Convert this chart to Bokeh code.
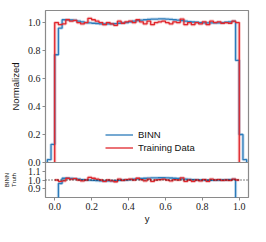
import numpy as np
from bokeh.plotting import figure
from bokeh.layouts import column
from bokeh.models import (Range1d, Legend, LegendItem, Span, FixedTicker,
                          PrintfTickFormatter)
from bokeh.embed import file_html
from bokeh.resources import INLINE

# ---------------- data ----------------
bin_edges = np.linspace(-0.04, 1.04, 55)          # 54 bins of width 0.02

binn_density = [0.02, 0.13, 0.77, 0.96,
                1.02, 1.02, 1.018, 1.015, 1.01, 1.005, 1.0, 0.998, 0.995, 0.993,
                0.99, 0.99, 0.99, 0.99, 0.992, 0.995, 0.998, 1.0, 1.005, 1.01,
                1.013, 1.017, 1.02, 1.022, 1.024, 1.025, 1.026, 1.026, 1.025, 1.023,
                1.02, 1.017, 1.014, 1.01, 1.007, 1.004, 1.002, 1.0, 0.998, 0.997,
                0.997, 0.997, 0.998, 1.0, 1.002, 1.005, 1.008,
                0.73, 0.2, 0.02]

training_density = [1.0, 0.985, 0.99, 1.02, 1.01, 1.015, 1.0, 0.99, 1.0, 1.03, 1.02, 1.01, 1.0,
                    0.985, 1.0, 0.99, 0.98, 1.01, 0.995, 1.005, 1.01, 1.0, 1.02, 1.005, 0.99, 1.01,
                    0.985, 1.0, 1.005, 1.01, 1.0, 0.99, 1.005, 1.0, 1.025, 0.985, 1.0, 0.985, 1.0, 0.99,
                    1.005, 0.985, 1.01, 1.0, 1.005, 0.995, 1.0, 0.995, 1.01, 1.0]

truth_density = 1.0          # uniform truth on [0, 1]
support_first_bin = 2        # index of bin starting at y = 0
n_support_bins = 50

x_ticks = [0.0, 0.2, 0.4, 0.6, 0.8, 1.0]
y_ticks_main = [0.0, 0.2, 0.4, 0.6, 0.8, 1.0]
y_ticks_ratio = [0.9, 1.0, 1.1]

BLUE = "#2b7bba"
RED = "#e0262c"
FRAME = "#8a8a8a"
TICK_FONT = "Liberation Serif"
LABEL_FONT = "Liberation Sans"

# ---------------- helpers ----------------
def hist_step(edges, vals):
    xs = [edges[0]] + list(edges)
    ys = [0.0] + list(vals) + [0.0]
    return xs, ys

def ratio_step(edges, vals):
    xs = list(edges)
    ys = list(vals) + [vals[-1]]
    return xs, ys

def style(p):
    p.grid.visible = False
    p.outline_line_color = FRAME
    p.outline_line_width = 1.2
    p.background_fill_color = "white"
    for ax in p.axis:
        ax.axis_line_color = None
        ax.major_tick_line_color = FRAME
        ax.major_tick_in = 0
        ax.major_tick_out = 3
        ax.minor_tick_line_color = None
        ax.major_label_text_font = TICK_FONT
        ax.major_label_text_font_size = "10px"
        ax.major_label_text_color = "#222222"
        ax.major_label_standoff = 2
        ax.axis_label_text_font = LABEL_FONT
        ax.axis_label_text_font_size = "9.5px"
        ax.axis_label_text_font_style = "normal"
        ax.axis_label_text_color = "#111111"

OVERLAP = 7
W = 250
LEFT = 40
RIGHT = 2

# ---------------- main panel ----------------
xr = Range1d(-0.05, 1.05)
p1 = figure(width=W, height=162 + OVERLAP, x_range=xr, y_range=Range1d(0, 1.086),
            output_backend="svg", toolbar_location=None, x_axis_location=None,
            min_border_left=LEFT, min_border_right=RIGHT, min_border_top=10,
            min_border_bottom=OVERLAP)
style(p1)
p1.border_fill_color = "white"
p1.yaxis.ticker = FixedTicker(ticks=y_ticks_main)
p1.yaxis.formatter = PrintfTickFormatter(format="%.1f")
p1.yaxis.axis_label = "Normalized"
p1.yaxis.axis_label_standoff = 4

bx, by = hist_step(bin_edges, binn_density)
tr_edges = bin_edges[support_first_bin:support_first_bin + n_support_bins + 1]
rx, ry = hist_step(tr_edges, training_density)

p1.step(bx, by, mode="after", line_color=BLUE, line_width=3.2, line_alpha=0.25)
p1.step(rx, ry, mode="after", line_color=RED, line_width=3.2, line_alpha=0.25)
b_line = p1.step(bx, by, mode="after", line_color=BLUE, line_width=1.3)
r_line = p1.step(rx, ry, mode="after", line_color=RED, line_width=1.3)

legend = Legend(items=[LegendItem(label="BINN", renderers=[b_line]),
                       LegendItem(label="Training Data", renderers=[r_line])],
                location=(60, 8), padding=0, margin=0, spacing=0,
                glyph_width=28, glyph_height=13, label_height=13, label_standoff=5,
                border_line_color=None, background_fill_alpha=0,
                label_text_font=LABEL_FONT, label_text_font_size="9.5px",
                label_text_color="#111111")
p1.add_layout(legend)

# ---------------- ratio panel ----------------
p2 = figure(width=W, height=64, x_range=xr, y_range=Range1d(0.8, 1.2),
            output_backend="svg", toolbar_location=None,
            min_border_left=LEFT, min_border_right=RIGHT, min_border_top=0, min_border_bottom=0)
style(p2)
p2.border_fill_alpha = 0
p2.margin = (-OVERLAP, 0, 0, 0)
p2.xaxis.ticker = FixedTicker(ticks=x_ticks)
p2.xaxis.formatter = PrintfTickFormatter(format="%.1f")
p2.xaxis.major_label_standoff = 2
p2.xaxis.axis_label = "y"
p2.xaxis.axis_label_standoff = 0
p2.yaxis.ticker = FixedTicker(ticks=y_ticks_ratio)
p2.yaxis.formatter = PrintfTickFormatter(format="%.1f")
p2.yaxis.axis_label = "BINN\nTruth"
p2.yaxis.axis_label_text_font_size = "6px"
p2.yaxis.axis_label_standoff = 8

binn_support = binn_density[support_first_bin:support_first_bin + n_support_bins]
binn_ratio = [v / truth_density for v in binn_support]
train_ratio = [v / truth_density for v in training_density]

p2.add_layout(Span(location=1.0, dimension="width", line_color="black",
                   line_width=1, line_dash="1 2"))
qx, qy = ratio_step(tr_edges, binn_ratio)
sx, sy = ratio_step(tr_edges, train_ratio)
p2.step(qx, qy, mode="after", line_color=BLUE, line_width=3.2, line_alpha=0.25)
p2.step(sx, sy, mode="after", line_color=RED, line_width=3.2, line_alpha=0.25)
p2.step(qx, qy, mode="after", line_color=BLUE, line_width=1.3)
p2.step(sx, sy, mode="after", line_color=RED, line_width=1.3)

layout = column(p1, p2, spacing=0)
open("out.html", "w").write(file_html(layout, INLINE))
